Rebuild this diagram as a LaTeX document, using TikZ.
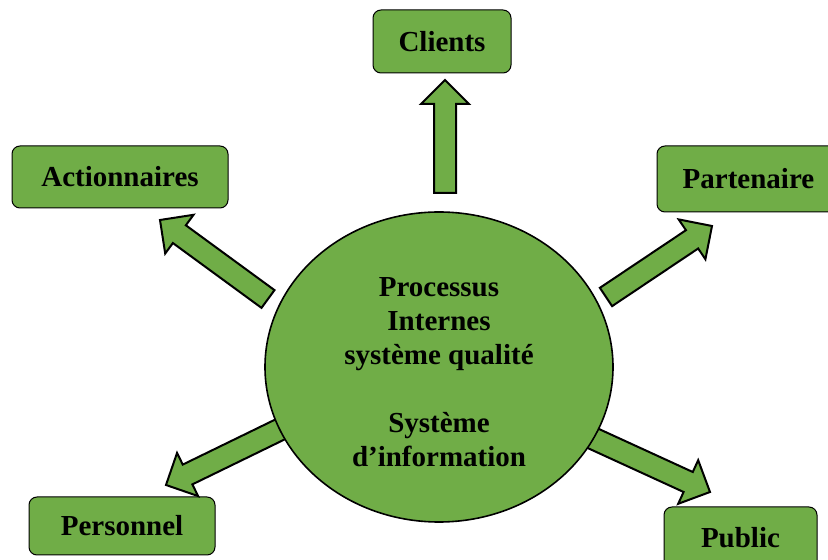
\documentclass[tikz,border=0pt]{standalone}
\usepackage{fontspec}
\setmainfont{Liberation Serif}
\usetikzlibrary{shapes, positioning, calc}
\definecolor{leaf}{HTML}{70AD47}

\begin{document}
\begin{tikzpicture}[x=1pt,y=1pt,
 thick,box node/.style={rectangle,rounded corners=8pt,draw,line width=1pt,fill=leaf,
   font=\fontsize{29}{34}\selectfont\bfseries,inner sep=0pt},
 centre node/.style={ellipse,draw,line width=1.6pt,fill=leaf,minimum width=348pt,
   minimum height=310pt,align=center,font=\fontsize{29}{34}\selectfont\bfseries,inner sep=0pt},
 fat/.style={draw,fill=leaf,line width=2pt,line join=miter}]
  \useasboundingbox (0,0) rectangle (828,560);
  \node[box node,minimum width=138pt,minimum height=63pt] (1) at (442,518.5) {Clients};
  \node[box node,minimum width=216pt,minimum height=62pt] (2) at (120,383) {Actionnaires};
  \node[box node,minimum width=183pt,minimum height=66pt] (3) at (748.5,381) {Partenaire};
  \node[box node,minimum width=186pt,minimum height=58pt] (4) at (122,34) {Personnel};
  \node[box node,minimum width=153pt,minimum height=62pt] (5) at (740.5,22) {Public};

  \coordinate (t1) at (445,367); \coordinate (h1) at (445,480);
  \coordinate (t2) at (268,261); \coordinate (h2) at (160,340);
  \coordinate (t3) at (606,263); \coordinate (h3) at (712,334);
  \coordinate (t4) at (283,132); \coordinate (h4) at (166,75);
  \coordinate (t5) at (590,123); \coordinate (h5) at (710,68);

  \foreach \s/\t in {t1/h1, t2/h2, t3/h3, t4/h4, t5/h5} {
   \coordinate (hb) at ($(\t)!24pt!(\s)$);
   \draw[fat] ($(\s)!11pt!90:(\t)$) -- ($(hb)!11pt!-90:(\s)$) -- ($(hb)!24pt!-90:(\s)$)
     -- (\t) -- ($(hb)!24pt!90:(\s)$) -- ($(hb)!11pt!90:(\s)$) -- ($(\s)!11pt!-90:(\t)$) -- cycle;}

  \node[centre node] (0) at (439,193) {\rule{0pt}{29pt}Processus\\Internes\\système qualité\\[34pt]Système\\d’information};
\end{tikzpicture}
\end{document}
